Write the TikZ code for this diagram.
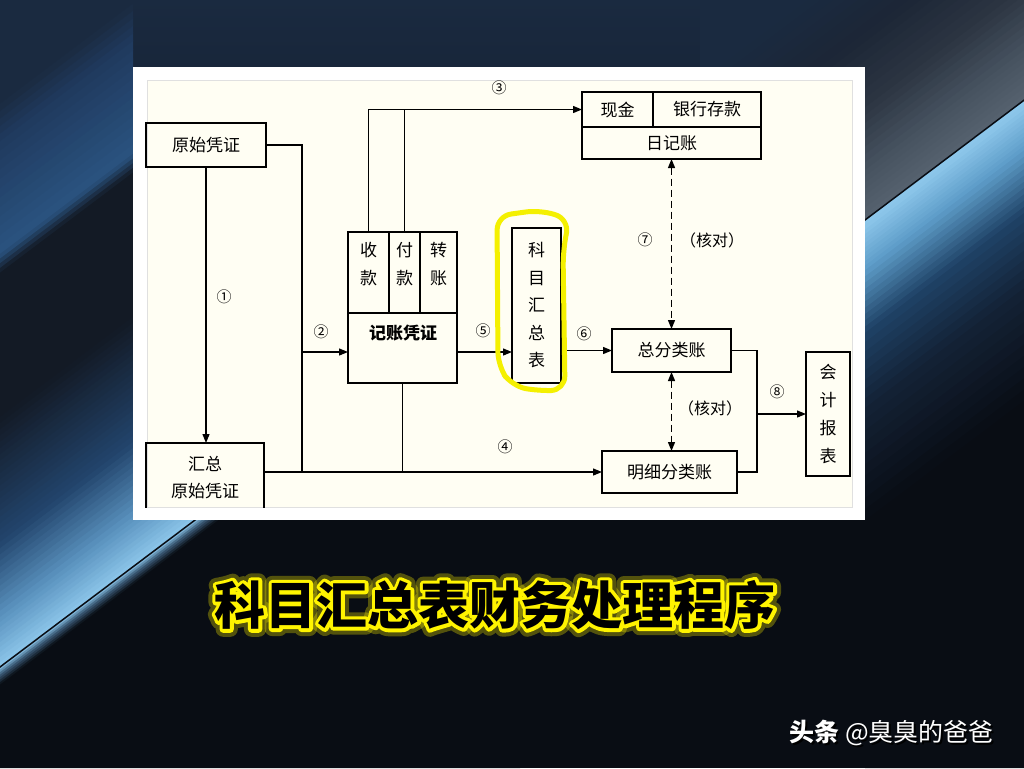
\documentclass[tikz,border=0pt]{standalone}
\usepackage{fontspec}
\setmainfont{Noto Sans CJK SC}
\usetikzlibrary{arrows.meta, positioning, calc}

\definecolor{navytop}{HTML}{1A2A40}
\definecolor{navybot}{HTML}{090D14}
\definecolor{streak}{HTML}{8CC6EA}
\definecolor{streakdim}{HTML}{3C5C78}
\definecolor{streakmid}{HTML}{5A92BE}
\definecolor{hazeleft}{HTML}{22446C}
\definecolor{darkleft}{HTML}{131A25}
\definecolor{blueleft}{HTML}{2A5380}
\definecolor{blueleftb}{HTML}{203A5E}
\definecolor{midright}{HTML}{132236}
\definecolor{blueright}{HTML}{1F4266}
\definecolor{lightright}{HTML}{5D9CC8}
\definecolor{smokea}{HTML}{56626F}
\definecolor{smokeb}{HTML}{46525F}
\definecolor{smokec}{HTML}{2C3542}
\definecolor{smoked}{HTML}{1C2636}
\definecolor{cream}{HTML}{FFFEF3}
\definecolor{marker}{HTML}{F4F000}
\definecolor{glow}{HTML}{FFF400}

% strips across a band: colour #1 -> #2, from #3 to #4 above the line, in #5 steps
\newcommand\gradband[5]{%
  \foreach \k in {1,...,#5}{%
    \pgfmathsetmacro\ya{-((#3)+((#4)-(#3))*(\k-1)/#5)}%
    \pgfmathsetmacro\yb{-((#3)+((#4)-(#3))*\k/#5)-0.8}%
    \pgfmathsetmacro\pc{100*(\k-0.5)/#5}%
    \fill[#2!\pc!#1] (-500,\ya) rectangle (900,\yb);
  }}

\newcommand\strokeon{\special{pdf:literal direct 2 Tr}}
\newcommand\strokeoff{\special{pdf:literal direct 0 Tr}}

\begin{document}
\begin{tikzpicture}[
    x=1pt, y=-1pt,
    >={Triangle[length=9pt, width=7pt]},
    box/.style={rectangle, draw=black, line width=1.3pt, inner sep=0pt, outer sep=0pt, align=center, font=\fontsize{17}{20}\selectfont},
    celltext/.style={align=center, font=\fontsize{17}{28}\selectfont},
    flow/.style={->, line width=1.2pt, black},
    line/.style={line width=1.2pt, black},
    check/.style={<->, line width=1.2pt, black, dash pattern=on 7pt off 4pt},
    num/.style={font=\fontsize{15}{18}\selectfont},
    note/.style={font=\fontsize{16}{18}\selectfont},
    title/.style={font=\fontsize{51}{56}\selectfont\bfseries, line join=round},
    wmark/.style={font=\fontsize{25}{28}\selectfont, anchor=west}
]
    \useasboundingbox (0,0) rectangle (1024,768);

    % Background
    \shade[top color=navytop, bottom color=navybot] (0,0) rectangle (1024,520);
    \fill[navybot] (0,519) rectangle (1024,768);
    \begin{scope}
        \clip (0,0) -- (133,0) -- (133,520) -- (520,520) -- (520,768) -- (0,768) -- cycle;
        \begin{scope}[shift={(0,667)}, rotate=37]
            \gradband{navybot}{navybot}{-600}{-14}{1}
            \gradband{navybot}{streakdim}{-14}{-6}{4}
            \gradband{streakdim}{streak}{-6}{0}{3}
            \gradband{streak}{streakmid}{0}{40}{10}
            \gradband{streakmid}{hazeleft}{40}{100}{12}
            \gradband{hazeleft}{darkleft}{100}{200}{20}
            \gradband{darkleft}{darkleft}{200}{315}{1}
            \gradband{darkleft}{blueleft}{315}{330}{4}
            \gradband{blueleft}{blueleftb}{330}{420}{12}
            \gradband{blueleftb}{navytop}{420}{450}{5}
            \gradband{navytop}{navytop}{450}{700}{1}
            \draw[line width=1.5pt, navybot] (-400,0) -- (380,0);
        \end{scope}
    \end{scope}
    \begin{scope}
        \clip (700,0) -- (1024,0) -- (1024,768) -- (865,768) -- (865,67) -- (700,67) -- cycle;
        \begin{scope}[shift={(865,220)}, rotate=37]
            \gradband{navybot}{navybot}{-700}{-240}{1}
            \gradband{navybot}{midright}{-240}{-150}{10}
            \gradband{midright}{blueright}{-150}{-90}{8}
            \gradband{blueright}{lightright}{-90}{-40}{10}
            \gradband{lightright}{streak}{-40}{-4}{10}
            \gradband{streak}{streak}{-4}{0}{1}
            \gradband{smokea}{smokeb}{0}{40}{8}
            \gradband{smokeb}{smokec}{40}{90}{8}
            \gradband{smokec}{smoked}{90}{150}{8}
            \gradband{smoked}{navytop}{150}{210}{8}
            \gradband{navytop}{navytop}{210}{500}{1}
            \draw[line width=1.5pt, navybot] (-450,0) -- (450,0);
        \end{scope}
    \end{scope}

    % Panel
    \fill[white] (133,67) rectangle (865,520);
    \fill[cream, draw=black!12] (147,80) rectangle (852,507);

    \begin{scope}
    \clip (144,78) rectangle (853,507);

    % Boxes
    \node (yspz) [box, minimum width=120pt, minimum height=44pt] at (206,145) {原始凭证};
    \node (hzpz) [box, minimum width=118pt, minimum height=70pt, font=\fontsize{17}{27}\selectfont] at (205,478) {汇总\\原始凭证};

    \node (jzpz) [box, minimum width=109pt, minimum height=151pt] at (402.5,307.5) {};
    \node (sk) [box, minimum width=41pt, minimum height=81pt] at (368.5,272.5) {};
    \node (fk) [box, minimum width=31pt, minimum height=81pt, right=0pt of sk] {};
    \node (zz) [box, minimum width=37pt, minimum height=81pt, right=0pt of fk] {};
    \node (skt) [celltext] at ([yshift=8pt]sk.center) {收\\款};
    \node (fkt) [celltext] at ([yshift=8pt]fk.center) {付\\款};
    \node (zzt) [celltext] at ([yshift=8pt]zz.center) {转\\账};
    \node (jzt) [font=\fontsize{17}{20}\selectfont\bfseries] at (403,333) {记账凭证};

    \node (xj) [box, minimum width=71pt, minimum height=35pt] at (617.5,109.5) {现金};
    \node (yhck) [box, minimum width=108pt, minimum height=35pt, right=0pt of xj] {银行存款};
    \node (rjz) [box, minimum width=179pt, minimum height=32pt, anchor=north west] at (xj.south west) {日记账};

    \node (kmhzb) [box, minimum width=49pt, minimum height=155pt, font=\fontsize{17}{27.5}\selectfont] at (536.5,305.5) {科\\目\\汇\\总\\表};
    \node (zfl) [box, minimum width=119pt, minimum height=43pt] at (671.5,350.5) {总分类账};
    \node (mxfl) [box, minimum width=135pt, minimum height=42pt] at (669.5,472) {明细分类账};
    \node (kjbb) [box, minimum width=44pt, minimum height=124pt, font=\fontsize{17}{28}\selectfont] at (828,414) {会\\计\\报\\表};

    % Joints
    \coordinate (row) at (0,352);
    \coordinate (j2) at (302,472);
    \coordinate (j8) at (757,414);

    % Connectors
    \draw[flow] (yspz.south) -- (yspz.south |- hzpz.north);
    \draw[line] (yspz.east) -| (j2);
    \draw[flow] (j2 |- row) -- (jzpz.west |- row);
    \draw[flow] (sk.north) |- (xj.west);
    \draw[line] (fk.north) -- (fk.north |- xj.west);
    \draw[flow] (hzpz.east |- mxfl.west) -- (mxfl.west);
    \draw[line] (jzpz.south) -- (jzpz.south |- mxfl.west);
    \draw[flow] (jzpz.east |- row) -- (kmhzb.west |- row);
    \draw[flow] (kmhzb.east |- zfl.west) -- (zfl.west);
    \draw[check] (rjz.south) -- (rjz.south |- zfl.north);
    \draw[check] (zfl.south) -- (zfl.south |- mxfl.north);
    \draw[line] (zfl.east) -| (j8);
    \draw[line] (mxfl.east) -| (j8);
    \draw[flow] (j8) -- (j8 -| kjbb.west);

    % Step numbers
    \node (n1) [num] at (224,297) {①};
    \node (n2) [num] at (321,332) {②};
    \node (n3) [num] at (499,88) {③};
    \node (n4) [num] at (505,447) {④};
    \node (n5) [num] at (483,331) {⑤};
    \node (n6) [num] at (584,334) {⑥};
    \node (n7) [num] at (645,240) {⑦};
    \node (n8) [num] at (777,392) {⑧};
    \node (hd1) [note] at (712,240) {（核对）};
    \node (hd2) [note] at (710,408) {（核对）};

    % Hand marking
    \draw[marker, line width=5pt, rounded corners=14pt, line cap=round]
        (497,216) -- (540,210) -- (569,219) -- (563,252) -- (565,390) -- (538,391) -- (512,386) -- (498,366) -- cycle;
    \end{scope}

    % Title
    \node (ttlhalo) [title, text=glow, opacity=0.3, line width=15pt] at (495,605) {\strokeon 科目汇总表财务处理程序\strokeoff};
    \node (ttlglow) [title, text=glow, line width=7pt] at (495,605) {\strokeon 科目汇总表财务处理程序\strokeoff};
    \node (ttl) [title, text=black] at (495,605) {科目汇总表财务处理程序};

    % Watermark
    \node (wmshadow) [wmark, text=black] at (788,735) {\textbf{头条} @臭臭的爸爸};
    \node (wm) [wmark, text=white] at (786,733) {\textbf{头条} @臭臭的爸爸};
\end{tikzpicture}
\end{document}
